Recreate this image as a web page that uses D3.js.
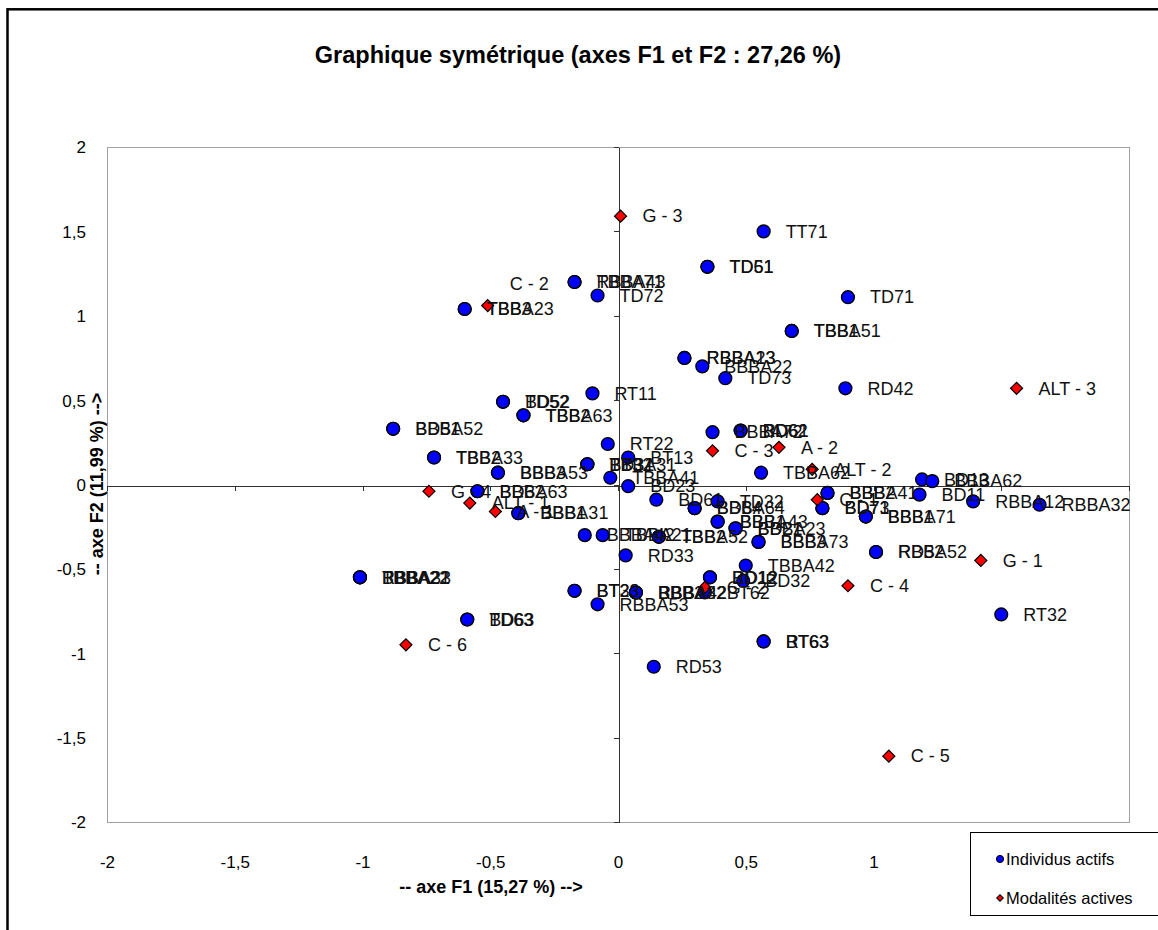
<!DOCTYPE html>
<html>
<head>
<meta charset="utf-8">
<script src="https://cdn.jsdelivr.net/npm/d3@7"></script>
<style>
  body { margin: 0; background: #fff; }
  svg { display: block; }
  text { font-family: "Liberation Sans", Arial, sans-serif; }
</style>
</head>
<body>
<svg id="chart" width="1158" height="930"></svg>
<script>
// Individus actifs: coordinates on F1 / F2
const indivNames = [
  "TT71", "TD51", "TD61", "TD71", "TBBA51", "TBB1", "RBBA13", "RBBA23", "BBBA22", "TD73",
  "RD42", "TBBA71", "RBBA43", "TD72", "TBBA23", "TBB3", "TD52", "BD52", "TBBA63", "TBB2",
  "BBBA52", "BD51", "TBBA33", "TBB2", "BBBA53", "BBB3", "RT11", "RT22", "BD31", "BT32",
  "TBBA31", "BT13", "TBBA41", "BD23", "BBBA63", "BD62", "BBBA31", "BBB1", "BBBA72", "BD62",
  "RD61", "TBBA62", "BD61", "BBBA64", "BD64", "TD32", "BBBA43", "BBB1", "BBBA23", "BD21",
  "BBBA73", "BBB3", "BBBA42", "TBBA21", "TBBA52", "TBB2", "RD33", "TBBA42", "BD12", "RD12",
  "BD32", "BT62", "BT63", "RT63", "RD53", "BT23", "BT33", "RBBA53", "BBBA32", "RBBA42",
  "BBB2", "BD13", "BBBA62", "BD11", "RBBA12", "RBBA32", "BBBA41", "BBB2", "BD73", "BD71",
  "BBBA71", "BBB1", "RBBA52", "RD52", "RT32", "BBBA21", "TBBA22", "RBBA33", "BD63", "TD63"
];
const indivF1 = [
  0.57, 0.35, 0.35, 0.90, 0.68, 0.68, 0.26, 0.26, 0.33, 0.42,
  0.89, -0.17, -0.17, -0.08, -0.60, -0.60, -0.45, -0.45, -0.37, -0.37,
  -0.88, -0.88, -0.72, -0.72, -0.47, -0.47, -0.10, -0.04, -0.12, -0.12,
  -0.12, 0.04, -0.03, 0.04, -0.55, -0.55, -0.39, -0.39, 0.37, 0.48,
  0.48, 0.56, 0.15, 0.30, 0.30, 0.39, 0.39, 0.39, 0.46, 0.46,
  0.55, 0.55, -0.13, -0.06, 0.16, 0.16, 0.03, 0.50, 0.36, 0.36,
  0.49, 0.34, 0.57, 0.57, 0.14, -0.17, -0.17, -0.08, 0.07, 0.07,
  0.07, 1.19, 1.23, 1.18, 1.39, 1.65, 0.82, 0.82, 0.80, 0.80,
  0.97, 0.97, 1.01, 1.01, 1.50, -1.01, -1.01, -1.01, -0.59, -0.59
];
const indivF2 = [
  1.50, 1.29, 1.29, 1.11, 0.91, 0.91, 0.75, 0.75, 0.70, 0.63,
  0.57, 1.20, 1.20, 1.12, 1.04, 1.04, 0.49, 0.49, 0.41, 0.41,
  0.33, 0.33, 0.16, 0.16, 0.07, 0.07, 0.54, 0.24, 0.12, 0.12,
  0.12, 0.16, 0.04, -0.01, -0.04, -0.04, -0.17, -0.17, 0.31, 0.32,
  0.32, 0.07, -0.09, -0.14, -0.14, -0.10, -0.22, -0.22, -0.26, -0.26,
  -0.34, -0.34, -0.30, -0.30, -0.31, -0.31, -0.42, -0.48, -0.55, -0.55,
  -0.57, -0.64, -0.93, -0.93, -1.08, -0.63, -0.63, -0.71, -0.64, -0.64,
  -0.64, 0.03, 0.02, -0.06, -0.10, -0.12, -0.05, -0.05, -0.14, -0.14,
  -0.19, -0.19, -0.40, -0.40, -0.77, -0.55, -0.55, -0.55, -0.80, -0.80
];

// Modalités actives: coordinates on F1 / F2
const modNames = ["G - 3", "C - 2", "ALT - 3", "C - 3", "A - 2", "ALT - 2", "C - 1", "G - 4",
  "ALT - 1", "A - 1", "G - 1", "C - 4", "G - 2", "C - 5", "C - 6"];
const modF1 = [0.01, -0.51, 1.56, 0.37, 0.63, 0.76, 0.78, -0.74, -0.58, -0.48, 1.42, 0.90, 0.34, 1.06, -0.83];
const modF2 = [1.59, 1.06, 0.57, 0.20, 0.22, 0.09, -0.09, -0.04, -0.11, -0.16, -0.45, -0.60, -0.61, -1.61, -0.95];

// Axis ticks
const tickValues = [-2, -1.5, -1, -0.5, 0, 0.5, 1, 1.5, 2];
const tickLabels = ["-2", "-1,5", "-1", "-0,5", "0", "0,5", "1", "1,5", "2"];

const chartTitle = "Graphique symétrique (axes F1 et F2 : 27,26 %)";
const xTitle = "-- axe F1 (15,27 %) -->";
const yTitle = "-- axe F2 (11,99 %) -->";
const legendLabels = ["Individus actifs", "Modalités actives"];

// a label moved above its marker
const labelLift = { "C - 2": -22 };

const svg = d3.select("#chart");
const plot = { left: 107, top: 147, right: 1129, bottom: 822 };

const x = d3.scaleLinear().domain([-2, 2]).range([plot.left, plot.right]);
const y = d3.scaleLinear().domain([-2, 2]).range([plot.bottom, plot.top]);

// outer frame
svg.append("rect")
  .attr("x", 7.5).attr("y", 9.3).attr("width", 1300).attr("height", 1100)
  .attr("fill", "#fff").attr("stroke", "#000").attr("stroke-width", 2.5);

svg.append("text")
  .attr("x", 578).attr("y", 63)
  .attr("text-anchor", "middle")
  .attr("font-size", 23.5).attr("font-weight", "bold")
  .text(chartTitle);

// plot area border
svg.append("rect")
  .attr("x", plot.left + 0.5).attr("y", plot.top + 0.5)
  .attr("width", plot.right - plot.left).attr("height", plot.bottom - plot.top)
  .attr("fill", "#fff").attr("stroke", "#a0a0a0").attr("stroke-width", 1);

// axis lines through the origin, with their tick marks
const xAxisLine = svg.append("g")
  .attr("transform", `translate(0,${Math.round(y(0)) + 0.5})`)
  .call(d3.axisBottom(x).tickValues(tickValues).tickSize(5).tickSizeOuter(0).tickFormat(""));
const yAxisLine = svg.append("g")
  .attr("transform", `translate(${Math.round(x(0)) + 0.5},0)`)
  .call(d3.axisLeft(y).tickValues(tickValues).tickSize(5).tickSizeOuter(0).tickFormat(""));
[xAxisLine, yAxisLine].forEach(g => {
  g.selectAll("path, line").attr("stroke", "#333").attr("stroke-width", 1).attr("shape-rendering", "crispEdges");
});

// tick labels, set along the bottom and left of the chart
const xLabels = svg.append("g")
  .attr("transform", `translate(0,862)`)
  .call(d3.axisBottom(x).tickValues(tickValues).tickSize(0)
    .tickFormat((d, i) => tickLabels[i]));
xLabels.select(".domain").remove();
xLabels.selectAll("text").attr("y", 0).attr("dy", "0.35em")
  .attr("font-size", 17).attr("font-family", "Liberation Sans, Arial, sans-serif").attr("fill", "#000");

const yLabels = svg.append("g")
  .attr("transform", `translate(89,0)`)
  .call(d3.axisLeft(y).tickValues(tickValues).tickSize(0)
    .tickFormat((d, i) => tickLabels[i]));
yLabels.select(".domain").remove();
yLabels.selectAll("text").attr("dy", "0.35em")
  .attr("font-size", 17).attr("font-family", "Liberation Sans, Arial, sans-serif").attr("fill", "#000");

// axis titles
svg.append("text")
  .attr("x", 491).attr("y", 887).attr("dy", "0.35em")
  .attr("text-anchor", "middle")
  .attr("font-size", 18).attr("font-weight", "bold")
  .text(xTitle);
svg.append("text")
  .attr("transform", `translate(97,484) rotate(-90)`)
  .attr("dy", "0.35em")
  .attr("text-anchor", "middle")
  .attr("font-size", 18).attr("font-weight", "bold")
  .text(yTitle);

// points
const indiv = indivNames.map((n, i) => ({ name: n, f1: indivF1[i], f2: indivF2[i] }));
const mods = modNames.map((n, i) => ({ name: n, f1: modF1[i], f2: modF2[i] }));

const marks = svg.append("g");
marks.selectAll("circle.indiv").data(indiv).join("circle")
  .attr("class", "indiv")
  .attr("cx", d => x(d.f1)).attr("cy", d => y(d.f2))
  .attr("r", 6.4)
  .attr("fill", "#0000ff").attr("stroke", "#000").attr("stroke-width", 1.4);

const diamond = d3.symbol().type(d3.symbolSquare).size(72);
marks.selectAll("path.mod").data(mods).join("path")
  .attr("class", "mod")
  .attr("d", diamond)
  .attr("transform", d => `translate(${x(d.f1)},${y(d.f2)}) rotate(45)`)
  .attr("fill", "#ff0000").attr("stroke", "#000").attr("stroke-width", 1.2);

// data labels
const labels = svg.append("g")
  .attr("font-size", 18).attr("fill", "#111");
labels.selectAll("text").data(indiv.concat(mods)).join("text")
  .attr("x", d => x(d.f1) + 22)
  .attr("y", d => y(d.f2) + (labelLift[d.name] || 0))
  .attr("dy", "0.35em")
  .text(d => d.name);

// legend
const legend = svg.append("g").attr("transform", "translate(970,832)");
legend.append("rect")
  .attr("x", 0.5).attr("y", 0.5).attr("width", 260).attr("height", 83)
  .attr("fill", "#fff").attr("stroke", "#000").attr("stroke-width", 1);
legend.append("circle")
  .attr("cx", 30).attr("cy", 27).attr("r", 3.6)
  .attr("fill", "#0000ff").attr("stroke", "#000").attr("stroke-width", 1);
legend.append("path")
  .attr("d", d3.symbol().type(d3.symbolSquare).size(22))
  .attr("transform", "translate(30,66) rotate(45)")
  .attr("fill", "#ff0000").attr("stroke", "#000").attr("stroke-width", 1);
legend.selectAll("text.leg").data(legendLabels).join("text")
  .attr("class", "leg")
  .attr("x", 36).attr("y", (d, i) => 27 + i * 39).attr("dy", "0.35em")
  .attr("font-size", 16.5).attr("fill", "#000")
  .text(d => d);
</script>
</body>
</html>
